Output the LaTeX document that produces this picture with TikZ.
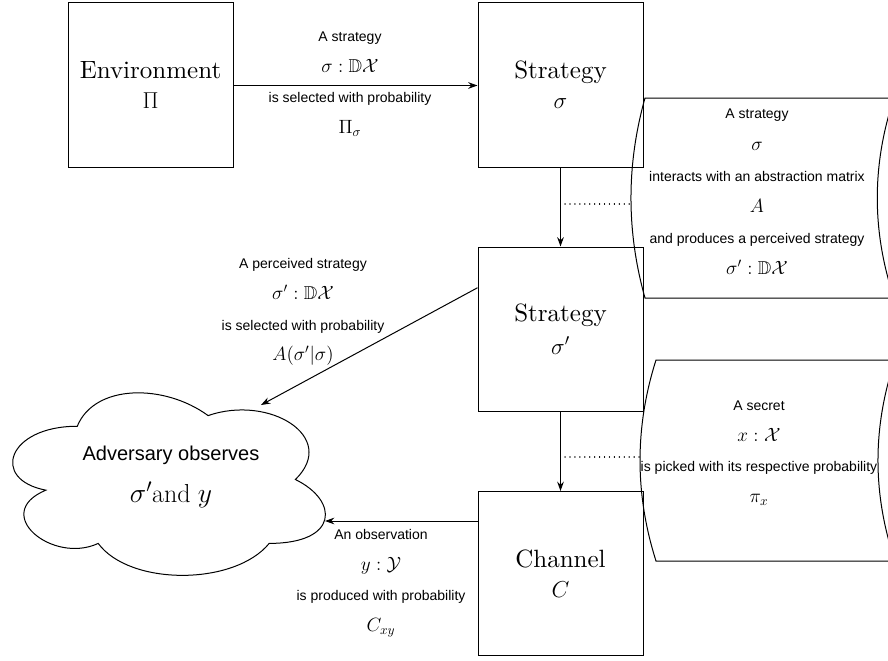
\documentclass[tikz,border=0pt]{standalone}
\usepackage{amsmath,amssymb}
\usepackage{fontspec}
\newfontfamily\labfont{Liberation Sans}
\newfontfamily\boxfont{lmroman10-regular.otf}
\newcommand\lm[1]{{\fontsize{14}{23}\selectfont$#1$}}
\usetikzlibrary{arrows.meta,calc}
\begin{document}
\begin{tikzpicture}[x=0.75pt,y=-0.75pt,
  box/.style={draw,line width=0.75pt,minimum width=123.75pt,minimum height=123pt,inner sep=0pt,align=center,font=\boxfont\fontsize{18.75}{22.5}\selectfont},
  lbl/.style={align=center,font=\labfont\fontsize{10.5}{23}\selectfont,inner sep=0pt},
  arr/.style={line width=0.75pt,-{Stealth[length=7pt,width=5pt]}},
  dots/.style={line width=0.9pt,line cap=round,dash pattern=on 0.1pt off 3.6pt},
  shp/.style={draw,line width=0.75pt}]
\useasboundingbox (0,0) rectangle (888,660);
\clip (0,0) rectangle (888,660);

% boxes
\node[box] (env) at (150.5,85) {Environment\\$\Pi$};
\node[box] (s1) at (560.5,85) {Strategy\\$\sigma$};
\node[box] (s2) at (560.5,329) {Strategy\\[2pt]$\sigma'$};
\node[box] (ch) at (560.5,573.5) {Channel\\$C$};

% annotation shapes
\draw[shp] (645,98) -- (894,98) .. controls (871.7,164.7) and (871.7,231.3) .. (894,298)
  -- (645,298) .. controls (626.3,231.3) and (626.3,164.7) .. (645,98) -- cycle;
\coordinate (ann1w) at (631,204);
\node[lbl,font=\labfont\fontsize{10.5}{23.4}\selectfont] (ann1) at (757,192) {A strategy\\\lm{\sigma}\\interacts with an abstraction matrix\\\lm{A}\\and produces a perceived strategy\\\lm{\sigma' : \mathbb{D}\mathcal{X}}};

\draw[shp] (656,360) -- (895,360) .. controls (872.3,427) and (872.3,494) .. (895,561)
  -- (656,561) .. controls (634.7,494) and (634.7,427) .. (656,360) -- cycle;
\coordinate (ann2w) at (640,457);
\node[lbl] (ann2) at (759,453) {A secret\\\lm{x : \mathcal{X}}\\is picked with its respective probability\\\lm{\pi_x}};

% cloud
\draw[shp] (77.25,426.25) .. controls (7.45,426.25) and (-10,479.5) .. (45.84,490.15)
  .. controls (-10,513.58) and (52.82,564.7) .. (98.19,543.4)
  .. controls (129.6,586) and (234.3,586) .. (269.2,543.4)
  .. controls (339,543.4) and (339,500.8) .. (295.4,479.5)
  .. controls (339,436.9) and (269.2,394.3) .. (208.1,415.6)
  .. controls (164.5,383.65) and (94.7,383.65) .. (77.25,426.25) -- cycle;
\node[align=center,inner sep=0pt,font=\labfont\fontsize{15}{31.5}\selectfont] (cloud) at (171,477) {Adversary observes\\{\fontsize{19.5}{31.5}\selectfont$\sigma'\mathrm{and}\ y$}};
\coordinate (cloudA) at (261,405);
\coordinate (cloudB) at (325,521);

% connectors
\draw[arr] ($(env.east)+(0,0.5)$) -- ($(s1.west)+(0,0.5)$);
\node[lbl] (l1) at (350,84) {A strategy\\\lm{\sigma : \mathbb{D}\mathcal{X}}\\is selected with probability\\\lm{\Pi_\sigma}};

\draw[arr] (s1.south) -- (s2.north);
\draw[arr] (s2.south) -- (ch.north);

\draw[arr] ($(s2.north west)!0.25!(s2.south west)$) -- (cloudA);
\node[lbl] (l2) at (303,312) {A perceived strategy\\\lm{\sigma' : \mathbb{D}\mathcal{X}}\\is selected with probability\\\lm{A(\sigma'|\sigma)}};

\draw[arr] ($(ch.north west)+(0,30)$) -- (cloudB);
\node[lbl] (l3) at (381,583) {An observation\\\lm{y : \mathcal{Y}}\\is produced with probability\\\lm{C_{xy}}};

% dotted annotation links
\coordinate (m1) at (565,204);
\coordinate (m2) at (565,457);
\draw[dots] (m1) -- (ann1w);
\draw[dots] (m2) -- (ann2w);
\end{tikzpicture}
\end{document}
